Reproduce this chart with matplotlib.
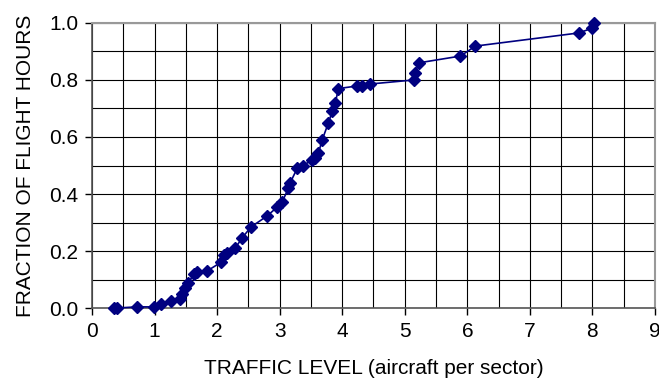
import matplotlib.pyplot as plt
from matplotlib.ticker import MultipleLocator

plt.rcParams['font.family'] = ['Liberation Sans', 'DejaVu Sans']

# cumulative fraction of flight hours vs. traffic level
traffic = [0.35, 0.40, 0.72, 0.99, 1.10, 1.26, 1.41, 1.44, 1.49, 1.54, 1.63, 1.68,
           1.84, 2.06, 2.11, 2.16, 2.29, 2.40, 2.54, 2.80, 2.96, 3.04, 3.14, 3.17,
           3.28, 3.38, 3.52, 3.57, 3.62, 3.68, 3.78, 3.84, 3.89, 3.94, 4.24, 4.32,
           4.45, 5.14, 5.17, 5.22, 5.89, 6.13, 7.78, 8.00, 8.02]
fraction = [0.0, 0.0, 0.004, 0.004, 0.014, 0.025, 0.032, 0.049, 0.07, 0.088, 0.12, 0.126,
            0.13, 0.16, 0.186, 0.193, 0.21, 0.246, 0.284, 0.323, 0.354, 0.372, 0.42, 0.44,
            0.49, 0.50, 0.52, 0.526, 0.544, 0.59, 0.65, 0.69, 0.72, 0.77, 0.779, 0.779,
            0.786, 0.80, 0.825, 0.86, 0.884, 0.919, 0.965, 0.982, 1.0]

fig = plt.figure(figsize=(6.59, 3.87), dpi=100)
ax = fig.add_axes([0.1396, 0.2041, 0.8543, 0.7365])

ax.plot(traffic, fraction, color='#000080', linewidth=1.2, marker='D',
        markersize=6.5, clip_on=False, zorder=3)

ax.set_xlim(0, 9)
ax.set_ylim(0, 1.0)
ax.xaxis.set_major_locator(MultipleLocator(1))
ax.xaxis.set_minor_locator(MultipleLocator(0.5))
ax.yaxis.set_major_locator(MultipleLocator(0.2))
ax.yaxis.set_minor_locator(MultipleLocator(0.1))
ax.yaxis.set_major_formatter(lambda v, p: f'{v:.1f}')

ax.grid(True, which='both', color='black', linewidth=0.8)
ax.tick_params(which='major', direction='out', length=5, width=1, labelsize=15, pad=5)
ax.tick_params(which='minor', length=0)

for side in ['top', 'right']:
    ax.spines[side].set_color('#999999')
    ax.spines[side].set_linewidth(1.5)
for side in ['left', 'bottom']:
    ax.spines[side].set_color('#555555')
    ax.spines[side].set_linewidth(1.2)

ax.set_xlabel('TRAFFIC LEVEL (aircraft per sector)', fontsize=15, labelpad=13)
ax.set_ylabel('FRACTION OF FLIGHT HOURS', fontsize=15, labelpad=10)

fig.savefig('out.png', dpi=100)
